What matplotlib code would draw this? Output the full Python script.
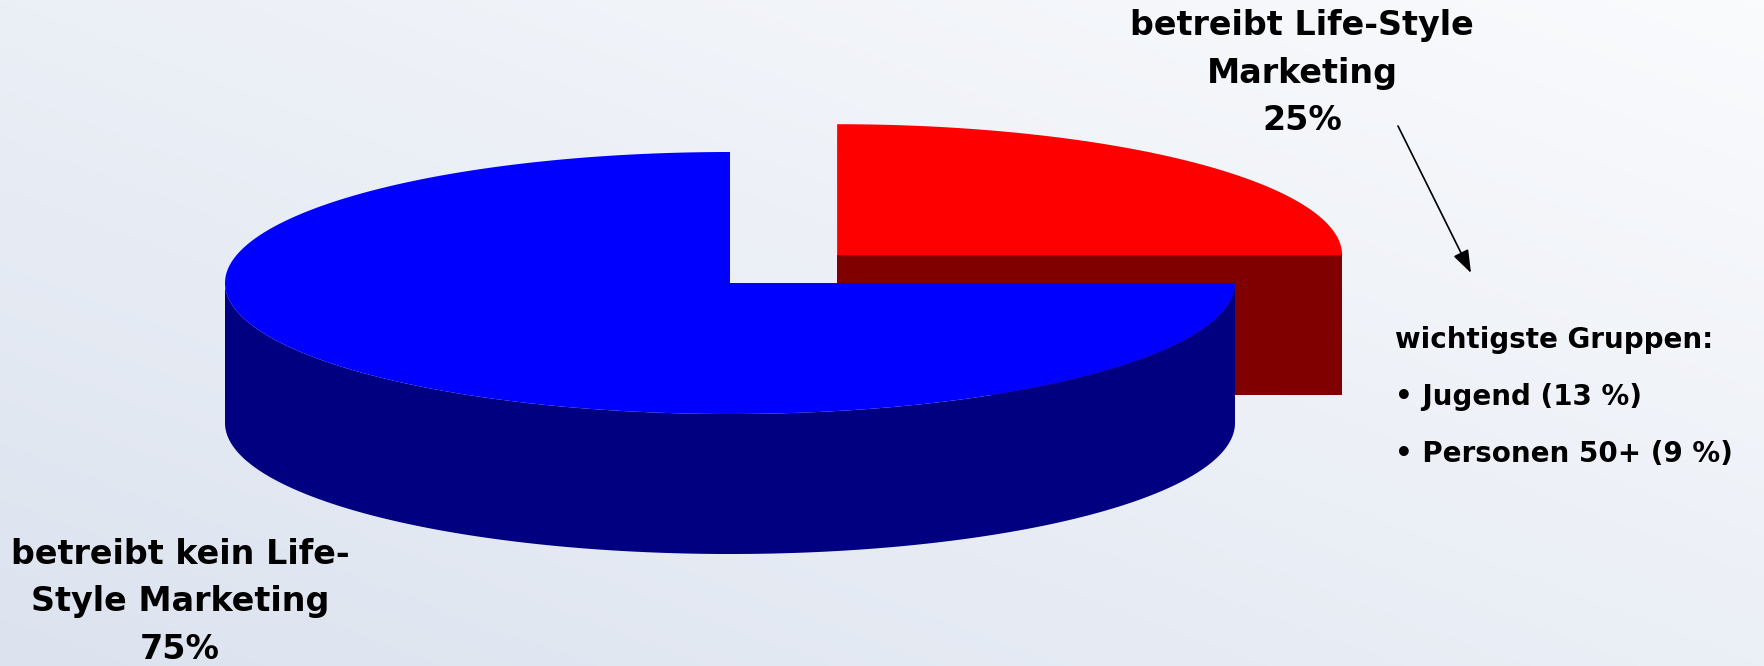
"""3D pie: Life-Style Marketing share, drawn as flat polygons."""

import numpy as np
import matplotlib

matplotlib.use("Agg")

import matplotlib.pyplot as plt
from matplotlib.colors import LinearSegmentedColormap
from matplotlib.patches import Polygon

# data
shares = [25, 75]
slice_labels = ["betreibt Life-Style\nMarketing", "betreibt kein Life-\nStyle Marketing"]
top_colors = ["#ff0000", "#0000ff"]
side_colors = ["#800000", "#000080"]
explode = [0.3, 0.0]
group_title = "wichtigste Gruppen:"
group_names = ["Jugend", "Personen 50+"]
group_shares = [13, 9]

# layout (pixels, y down)
W, H = 1764, 666
CX, CY = 730, 283
RX, RY = 505, 131
DEPTH = 140


def rim(cx, cy, t):
    return cx + RX * np.cos(t), cy - RY * np.sin(t)


def draw_slice(ax, t0, t1, e, top_c, side_c):
    mid = (t0 + t1) / 2
    cx = CX + e * RX * np.cos(mid)
    cy = CY - e * RY * np.sin(mid)

    # radial cut faces facing the viewer
    for t, normal in ((t0, t0 - np.pi / 2), (t1, t1 + np.pi / 2)):
        if np.sin(normal) < -1e-6:
            x, y = rim(cx, cy, t)
            pts = [(cx, cy), (x, y), (x, y + DEPTH), (cx, cy + DEPTH)]
            ax.add_patch(Polygon(pts, closed=True, fc=side_c, ec="none", zorder=2))

    # curved front side
    a, b = max(t0, np.pi), min(t1, 2 * np.pi)
    if b > a:
        t = np.linspace(a, b, 200)
        xs, ys = rim(cx, cy, t)
        pts = np.column_stack([np.r_[xs, xs[::-1]], np.r_[ys, ys[::-1] + DEPTH]])
        ax.add_patch(Polygon(pts, closed=True, fc=side_c, ec="none", zorder=2))

    # top
    t = np.linspace(t0, t1, 300)
    xs, ys = rim(cx, cy, t)
    pts = np.column_stack([np.r_[cx, xs], np.r_[cy, ys]])
    ax.add_patch(Polygon(pts, closed=True, fc=top_c, ec="none", zorder=2))


def main():
    plt.rcParams["font.family"] = "DejaVu Sans"
    fig = plt.figure(figsize=(W / 100, H / 100), dpi=100)
    ax = fig.add_axes([0, 0, 1, 1])
    ax.set_xlim(0, W)
    ax.set_ylim(H, 0)
    ax.axis("off")

    # background gradient, darker bottom-left to lighter top-right
    gx, gy = np.meshgrid(np.linspace(0, 1, 400), np.linspace(0, 1, 200))
    grad = (gx + (1 - gy)) / 2
    cmap = LinearSegmentedColormap.from_list("bg", ["#dce3ef", "#fafbfd"])
    ax.imshow(grad, cmap=cmap, extent=(0, W, H, 0), aspect="auto", zorder=0)

    # slices: first one starts at 0 deg, counter-clockwise
    angles = np.cumsum([0] + shares) / sum(shares) * 2 * np.pi
    for i in range(len(shares)):
        draw_slice(ax, angles[i], angles[i + 1], explode[i], top_colors[i], side_colors[i])

    txt = dict(fontsize=24, fontweight="bold", ha="center", va="center",
               linespacing=1.55, zorder=3)
    ax.text(1302, 73, f"{slice_labels[0]}\n{shares[0]}%", **txt)
    ax.text(180, 602, f"{slice_labels[1]}\n{shares[1]}%", **txt)

    lines = [group_title] + [f"• {n} ({s} %)" for n, s in zip(group_names, group_shares)]
    ax.text(1395, 397, "\n".join(lines), fontsize=20, fontweight="bold",
            ha="left", va="center", linespacing=2.3, zorder=3)

    ax.annotate("", xy=(1471, 273), xytext=(1398, 126),
                arrowprops=dict(arrowstyle="-|>,head_length=0.7,head_width=0.25",
                                color="black", lw=1.2, mutation_scale=20,
                                shrinkA=0, shrinkB=0), zorder=3)

    fig.savefig("out.png", dpi=100)
    plt.close(fig)


if __name__ == "__main__":
    main()
